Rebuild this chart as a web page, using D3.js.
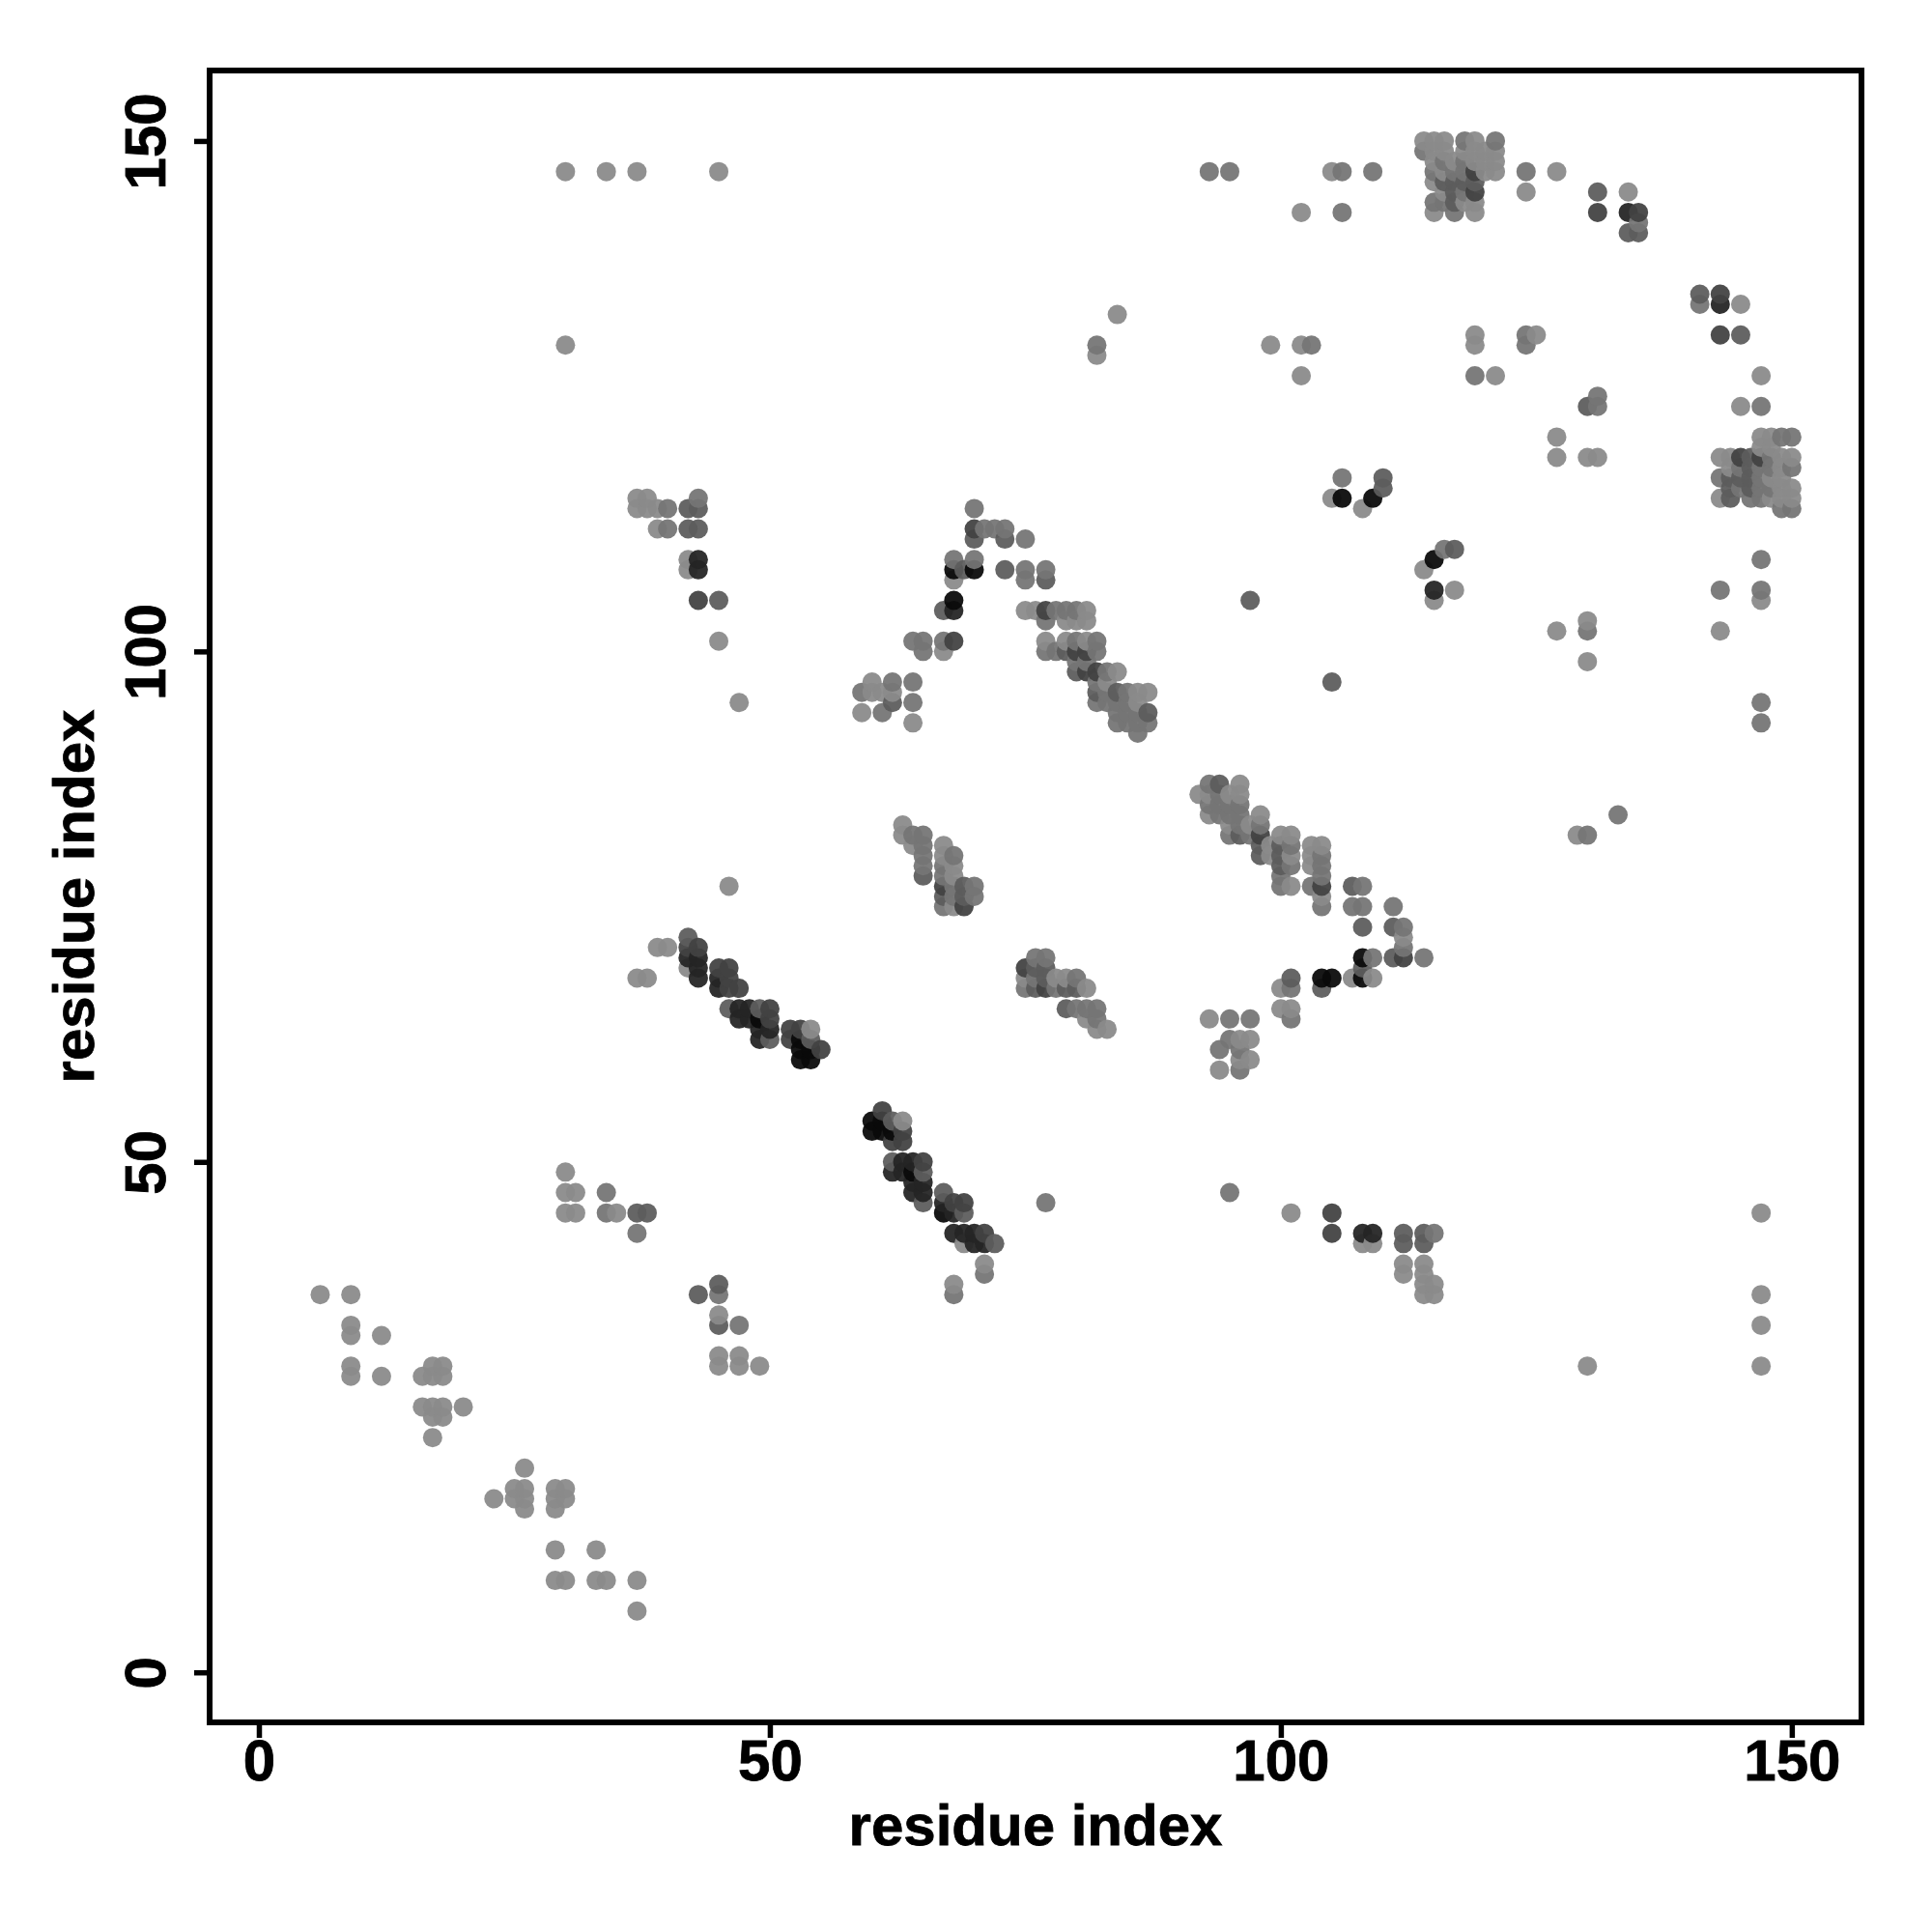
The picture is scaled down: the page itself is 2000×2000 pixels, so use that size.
<!DOCTYPE html>
<html><head><meta charset="utf-8">
<script src="https://cdn.jsdelivr.net/npm/d3@7"></script>
<style>html,body{margin:0;padding:0;background:#fff}svg{display:block}</style></head>
<body><div id="chart"></div>
<script>
const tickValues = [0, 50, 100, 150];
const axisTitle = "residue index";
const shadeNames = ["a","b","c","d","e","f"];
const shadeColors = ["#8a8a8a","#757575","#5c5c5c","#424242","#242424","#0a0a0a"];
const shadeA = [[6,37],[9,37],[9,34],[9,33],[12,33],[9,30],[17,30],[18,30],[9,29],[12,29],[16,29],[17,29],[18,29],[16,26],[17,26],[18,26],[20,26],[17,25],[18,25],[17,23],[26,20],[25,18],[26,18],[29,18],[30,18],[23,17],[25,17],[26,17],[29,17],[30,17],[26,16],[29,16],[29,12],[33,12],[29,9],[30,9],[33,9],[34,9],[37,9],[37,6],
[30,49],[30,47],[31,47],[30,45],[31,45],[35,45],[45,35],[45,31],[47,31],[45,30],[47,30],[49,30],
[30,147],[34,147],[37,147],[45,147],[105,147],[102,143],[30,130],
[114,150],[115,150],[116,150],[119,150],[115,149],[116,149],[118,149],[119,149],[120,149],[121,149],[115,148],[117,148],[119,148],[120,148],[121,148],[116,147],[120,147],[121,147],[127,147],[115,146],[116,145],[124,145],[118,144],[119,144],[115,143],[119,143],[134,145],
[84,133],[99,130],[102,130],[82,129],[102,127],[119,131],[125,131],[119,130],[121,127],[145,134],[147,127],[145,124],
[147,121],[148,121],[147,120],[148,120],[143,119],[144,119],[149,119],[150,119],[144,118],[149,118],[148,117],[149,117],[149,116],[150,116],[143,115],[148,115],[149,115],[150,115],
[37,115],[38,115],[37,114],[38,114],[39,114],[39,112],[42,109],[42,108],[45,101],[47,95],
[68,107],[75,104],[76,104],[81,104],[79,103],[80,103],[81,103],[77,101],[79,101],[81,101],[67,100],[84,98],[60,97],[83,97],[60,96],[61,96],[62,96],[86,96],[87,96],[86,95],[59,94],[64,93],
[96,87],[92,86],[93,86],[95,86],[96,86],[93,84],[98,84],[95,83],[97,83],[100,82],[101,82],[99,81],[103,81],[104,81],[99,80],[101,80],[103,80],[103,79],[101,77],[104,76],[112,72],[107,68],[109,68],[100,67],[100,65],[101,65],[93,64],[96,62],[97,62],[96,60],[97,60],[94,59],
[105,115],[108,114],[114,108],[117,106],[115,105],[127,121],[127,119],[130,119],[131,119],[147,105],[127,102],[143,102],[130,103],[130,99],[129,82],
[63,83],[63,82],[64,81],[67,81],[67,80],[68,79],[68,78],[68,75],[75,68],[78,68],[79,68],[81,67],[81,64],[82,63],[83,63],[101,45],[46,77],
[39,71],[40,71],[42,69],[37,68],[38,68],[54,63],[63,54],[69,42],[71,40],[68,38],
[108,42],[109,42],[112,40],[114,40],[112,39],[114,39],[114,38],[115,38],[114,37],[115,37],[147,45],[147,37],[147,34],[147,30],[130,30]];
const shadeB = [[34,47],[34,45],[37,43],[45,37],[47,34],[93,147],[95,147],[106,147],[109,147],[106,143],
[118,150],[121,150],[114,149],[116,148],[118,148],[115,147],[117,147],[118,147],[124,147],[118,145],[115,144],[116,144],[117,143],[135,142],[141,134],[147,124],
[82,130],[103,130],[124,131],[124,130],[119,127],[149,121],[150,121],[148,119],[145,118],[147,118],[148,118],[150,118],[143,117],[147,117],[145,116],[147,116],[148,116],[146,115],[147,115],[149,114],[150,114],
[43,115],[40,114],[40,112],[70,114],[71,112],[72,112],[73,112],[75,111],[68,109],[70,109],[75,108],[77,108],[75,107],[78,104],[79,104],[80,104],[77,103],[64,101],[65,101],[67,101],[80,101],[82,101],[65,100],[77,100],[78,100],[82,100],[80,99],[81,99],[83,98],[62,97],[64,97],[82,97],[59,96],[83,96],[85,96],[64,95],[82,95],[83,95],[84,95],[85,95],[61,94],[84,94],[85,94],[86,94],[84,93],[85,93],[86,93],[87,93],[86,92],
[93,87],[94,86],[93,85],[94,85],[95,85],[96,85],[94,84],[95,84],[96,84],[96,83],[98,83],[95,82],[97,82],[101,81],[104,80],[101,79],[104,79],[100,78],[104,78],[100,77],[103,77],[108,77],[104,75],[107,75],[108,75],[111,75],[112,73],[112,71],[109,70],[114,70],[101,67],[101,64],[95,64],[97,64],[95,62],[94,61],[96,61],[96,59],
[106,117],[116,110],[143,106],[147,106],[147,109],[130,102],[147,93],[147,95],[133,84],[130,82],[131,125],[131,124],
[64,82],[65,82],[65,81],[65,80],[68,80],[65,79],[67,79],[67,78],[68,77],[70,77],[68,76],[70,76],[67,75],[76,70],[77,70],[76,68],[80,68],[75,67],[78,67],[80,65],[81,65],[82,65],[82,64],[77,46],[95,47],
[71,39],[68,37],[115,43]];
const shadeC = [[37,45],[38,45],[45,38],[43,37],[45,34],[131,145],[116,146],[117,146],[118,146],[119,146],[117,145],[117,144],[134,141],[135,141],[141,135],[145,131],
[146,119],[146,118],[144,117],[145,117],[146,117],[144,116],[146,116],[144,115],
[42,114],[43,114],[42,112],[43,112],[45,105],
[70,111],[73,111],[69,108],[73,108],[77,107],[67,104],[79,100],[80,98],[82,96],[84,96],[62,95],[87,94],
[94,87],[96,82],[98,81],[100,81],[98,80],[100,80],[100,79],[107,77],[108,73],[111,73],[111,70],[108,69],[101,68],[104,67],
[110,117],[110,116],[117,110],[97,105],[105,97],[130,124],
[65,78],[69,77],[67,76],[69,76],[76,69],[77,69],[77,68],[76,67],[79,67],[80,67],[79,65],
[42,72],[46,65],[49,65],[50,62],[54,62],[62,54],[62,50],[65,49],[67,47],[65,46],[69,45],[72,42],
[112,43],[114,43],[112,42],[114,42]];
const shadeD = [[119,147],[119,145],[131,143],[135,143],[143,135],[143,131],[145,119],[147,119],[43,105],
[70,112],[77,104],[68,101],[80,100],[81,100],[81,98],[82,98],[98,82],[104,77],[112,70],
[67,77],[69,75],[75,69],[77,67],
[42,71],[43,71],[45,69],[46,69],[46,68],[46,67],[47,67],[50,65],[50,64],[52,63],[53,63],[52,62],[55,61],[61,55],[63,53],[62,52],[63,52],[65,50],[68,46],[69,46],[71,43],[105,45],[105,43]];
const shadeE = [[134,143],[143,134],[43,109],[43,108],[68,104],[42,70],[43,70],[43,69],[43,68],[45,68],[45,67],[47,65],[48,65],[47,64],[48,64],[49,63],[50,63],[49,62],[63,50],[64,50],[62,49],[63,49],[64,48],[65,48],[64,47],[65,47],[67,46],[68,45],[68,43],[69,43],[70,43],[70,42],[71,42],[108,43],[109,43],[115,106]];
const shadeF = [[68,108],[70,108],[68,105],[108,70],[104,68],[105,68],[108,68],[106,115],[109,115],[115,109],[49,64],[53,62],[53,61],[54,61],[53,60],[54,60],[60,54],[61,54],[60,53],[61,53],[62,53],[64,49],[67,45]];

const shadeLists = [shadeA, shadeB, shadeC, shadeD, shadeE, shadeF];
const color = d3.scaleOrdinal().domain(shadeNames).range(shadeColors);
const points = shadeLists.flatMap((list, i) => list.map(([x, y]) => ({x, y, shade: shadeNames[i]})))
  .sort((p, q) => d3.ascending(p.x, q.x) || d3.ascending(p.y, q.y));

const W = 2000, H = 2000;
const box = {left: 217, right: 1927, top: 73, bottom: 1783};
const x = d3.scaleLinear().domain([-4.82, 156.82]).range([box.left, box.right]);
const y = d3.scaleLinear().domain([-4.9, 156.9]).range([box.bottom, box.top]);
const font = "'Liberation Sans', Arial, sans-serif";
const fontSize = 60;

const svg = d3.select("#chart").append("svg").attr("width", W).attr("height", H);
svg.append("rect").attr("width", W).attr("height", H).attr("fill", "#fff");

svg.append("g").selectAll("circle").data(points).join("circle")
  .attr("cx", d => x(d.x)).attr("cy", d => y(d.y)).attr("r", 10)
  .attr("fill", d => color(d.shade)).attr("fill-opacity", 0.94);

const gx = svg.append("g").attr("transform", `translate(0,${box.bottom})`)
  .call(d3.axisBottom(x).tickValues(tickValues).tickSize(16).tickPadding(1).tickFormat(d3.format("d")));
const gy = svg.append("g").attr("transform", `translate(${box.left},0)`)
  .call(d3.axisLeft(y).tickValues(tickValues).tickSize(16).tickFormat(d3.format("d")));
for (const g of [gx, gy]) {
  g.select(".domain").remove();
  g.selectAll("line").attr("stroke", "#000").attr("stroke-width", 5.5);
  g.selectAll("text").attr("font-family", font).attr("font-weight", 700).attr("font-size", fontSize)
    .attr("fill", "#000").attr("stroke", "#000").attr("stroke-width", 0.8);
}
gy.selectAll("text")
  .attr("x", null).attr("dy", null)
  .attr("text-anchor", "middle")
  .attr("transform", "translate(-46,0) rotate(-90)");

svg.append("rect").attr("x", box.left).attr("y", box.top)
  .attr("width", box.right - box.left).attr("height", box.bottom - box.top)
  .attr("fill", "none").attr("stroke", "#000").attr("stroke-width", 6);

svg.append("text").text(axisTitle).attr("x", (box.left + box.right) / 2).attr("y", 1910)
  .attr("text-anchor", "middle").attr("font-family", font).attr("font-weight", 700).attr("font-size", fontSize)
  .attr("stroke", "#000").attr("stroke-width", 0.8);
svg.append("text").text(axisTitle).attr("text-anchor", "middle")
  .attr("transform", `translate(97,${(box.top + box.bottom) / 2}) rotate(-90)`)
  .attr("font-family", font).attr("font-weight", 700).attr("font-size", fontSize)
  .attr("stroke", "#000").attr("stroke-width", 0.8);
</script></body></html>
